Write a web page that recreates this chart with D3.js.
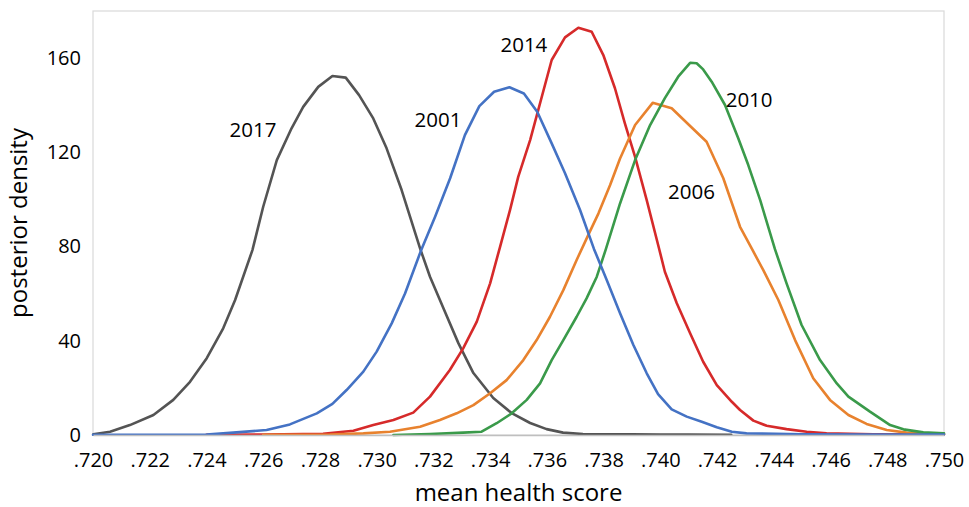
<!DOCTYPE html>
<html>
<head>
<meta charset="utf-8">
<script src="https://cdn.jsdelivr.net/npm/d3@7"></script>
<style>
  html, body { margin: 0; padding: 0; background: #fff; }
  svg { display: block; font-family: "Open Sans", "Noto Sans", sans-serif; }
</style>
</head>
<body>
<svg id="chart" width="969" height="507"></svg>
<script>
// ---- data ----
const x2017 = [.72001,.72060,.72130,.72213,.72283,.72342,.72401,.72459,.72501,.72562,.72600,.72648,.72700,.72741,.72794,.72844,.72891,.72938,.72988,.73035,.73088,.73153,.73188,.73235,.73288,.73341,.73411,.73476,.73541,.73599,.73657,.73727,.7380,.7390,.7400,.7410,.7425];
const y2017 = [0.3,1.4,4.2,8.5,14.9,22.6,32.6,45.3,57.3,78.5,96.9,116.7,130.2,139.3,147.8,152.4,151.7,144.3,134.4,121.7,104.0,79.2,67.2,53.9,39.0,26.3,15.7,9.3,5.1,2.5,1.0,0.4,0.3,0.3,0.2,0.2,0.1];

const x2001 = [.7200,.7220,.7240,.72494,.72612,.72694,.72789,.72844,.72894,.72953,.73000,.73053,.73100,.73156,.73206,.73259,.73311,.73362,.73414,.73468,.73519,.73566,.73617,.73664,.73717,.73766,.73811,.73858,.73905,.73952,.73992,.74040,.74093,.74146,.74199,.74252,.74304,.7450,.7475,.7500];
const y2001 = [0.1,0.1,0.2,1.0,2.1,4.5,9.2,13.2,19.1,26.9,35.4,47.4,60.1,78.2,92.7,109.0,127.3,139.6,145.7,147.6,145.0,137.2,123.8,111.1,95.5,79.0,65.8,51.7,38.2,26.2,17.4,10.9,7.8,5.6,3.3,1.4,0.7,0.3,0.2,0.2];

const x2014 = [.7240,.7260,.72811,.72918,.72988,.73059,.73129,.73188,.73258,.73305,.73353,.73400,.73435,.73470,.73499,.73541,.73617,.73664,.73711,.73758,.73799,.73840,.73875,.73911,.73952,.73995,.74016,.74058,.74105,.74151,.74199,.74252,.74281,.74328,.74375,.74445,.74516,.74586,.7475,.7500];
const y2014 = [0.1,0.2,0.5,1.8,4.2,6.4,9.5,16.3,27.6,36.8,48.1,64.4,79.9,95.5,109.6,125.2,159.2,168.8,172.9,171.2,161.3,147.2,132.3,118.1,99.7,79.4,69.3,55.9,43.2,31.1,21.2,14.1,10.6,6.1,3.9,2.5,1.4,0.7,0.3,0.2];

const x2006 = [.7260,.72835,.72953,.73047,.73153,.73223,.73282,.73341,.73400,.73458,.73517,.73564,.73611,.73658,.73705,.73749,.73782,.73823,.73858,.73911,.73973,.74040,.74105,.74163,.74222,.74281,.74322,.74363,.74416,.74475,.74539,.74598,.74663,.74727,.74798,.74868,.74939,.75000];
const y2006 = [0.1,0.2,0.7,1.4,3.5,6.4,9.2,12.7,17.7,23.3,31.8,40.3,50.2,61.5,74.3,85.7,94.1,106.1,117.4,131.6,141.0,138.7,131.2,124.5,109.0,88.4,79.2,70.0,57.3,40.3,24.1,14.9,8.5,4.7,2.1,1.0,0.6,0.4];

const x2010 = [.73059,.73188,.73305,.73370,.73423,.73476,.73529,.73576,.73617,.73658,.73705,.73740,.73776,.73808,.73858,.73911,.73964,.74016,.74063,.74105,.74128,.74151,.74181,.74228,.74275,.74310,.74352,.74404,.74445,.74498,.74563,.74622,.74663,.74739,.74810,.74857,.74927,.75000];
const y2010 = [0.0,0.4,1.0,1.4,5.0,9.2,14.9,21.9,31.8,40.3,50.2,58.0,67.2,78.9,98.3,116.7,131.6,143.0,152.1,158.0,157.8,155.2,150.0,140.1,125.9,114.6,99.7,78.9,64.4,46.7,31.8,21.9,16.3,9.9,4.2,2.4,1.1,0.7];

const seriesNames = ["2017","2014","2006","2010","2001"];
const xTickValues = [.720,.722,.724,.726,.728,.730,.732,.734,.736,.738,.740,.742,.744,.746,.748,.750];
const xTickLabels = [".720",".722",".724",".726",".728",".730",".732",".734",".736",".738",".740",".742",".744",".746",".748",".750"];
const yTickValues = [0,40,80,120,160];
const yTickLabels = ["0","40","80","120","160"];
// label anchor points in data units (x, y)
const labelX = [.72564,.73519,.74110,.74313,.73216];
const labelY = [126.5,162.7,100.0,139.1,130.9];

// ---- build ----
const seriesData = {
  "2017": d3.zip(x2017, y2017),
  "2014": d3.zip(x2014, y2014),
  "2006": d3.zip(x2006, y2006),
  "2010": d3.zip(x2010, y2010),
  "2001": d3.zip(x2001, y2001)
};
const colors = {
  "2017": "#545454",
  "2014": "#d62a2a",
  "2006": "#e8822e",
  "2010": "#3a9a4a",
  "2001": "#4472c4"
};

const svg = d3.select("#chart");
const L = 93, R = 944, T = 11, B = 435;
const x = d3.scaleLinear().domain([0.720, 0.750]).range([L, R]);
const y = d3.scaleLinear().domain([0, 180]).range([B, T]);

// plot area border
svg.append("rect")
  .attr("x", L).attr("y", T).attr("width", R - L).attr("height", B - T)
  .attr("fill", "none").attr("stroke", "#d9d9d9").attr("stroke-width", 1.2);

// lines
const line = d3.line().x(d => x(d[0])).y(d => y(d[1])).curve(d3.curveLinear);
const g = svg.append("g");
seriesNames.forEach(name => {
  g.append("path")
    .datum(seriesData[name])
    .attr("d", line)
    .attr("fill", "none")
    .attr("stroke", colors[name])
    .attr("stroke-width", 2.6)
    .attr("stroke-linejoin", "round")
    .attr("stroke-linecap", "round");
});

// x axis
const xAxis = d3.axisBottom(x)
  .tickValues(xTickValues)
  .tickFormat((d, i) => xTickLabels[i])
  .tickSize(0).tickPadding(0);
const gx = svg.append("g").attr("transform", `translate(0,${B})`).call(xAxis);
gx.select(".domain").attr("stroke", "#bfbfbf").attr("stroke-width", 1.5);
gx.selectAll("text")
  .attr("dy", null).attr("y", 32)
  .attr("fill", "#000")
  .style("font-size", "20px")
  .style("font-family", '"Open Sans", sans-serif');

// y axis
const yAxis = d3.axisLeft(y)
  .tickValues(yTickValues)
  .tickFormat((d, i) => yTickLabels[i])
  .tickSize(0).tickPadding(12);
const gy = svg.append("g").attr("transform", `translate(${L},0)`).call(yAxis);
gy.select(".domain").remove();
gy.selectAll("text")
  .attr("fill", "#000")
  .style("font-size", "20px")
  .style("font-family", '"Open Sans", sans-serif');

// axis titles
svg.append("text")
  .attr("x", (L + R) / 2).attr("y", 501)
  .attr("text-anchor", "middle")
  .style("font-size", "24px")
  .attr("fill", "#000")
  .text("mean health score");
svg.append("text")
  .attr("transform", `translate(27,${(T + B) / 2}) rotate(-90)`)
  .attr("text-anchor", "middle")
  .style("font-size", "24px")
  .attr("fill", "#000")
  .text("posterior density");

// series labels
seriesNames.forEach((name, i) => {
  svg.append("text")
    .attr("x", x(labelX[i])).attr("y", y(labelY[i]))
    .attr("text-anchor", "middle")
    .style("font-size", "20.5px")
    .attr("fill", "#000")
    .text(name);
});
</script>
</body>
</html>
